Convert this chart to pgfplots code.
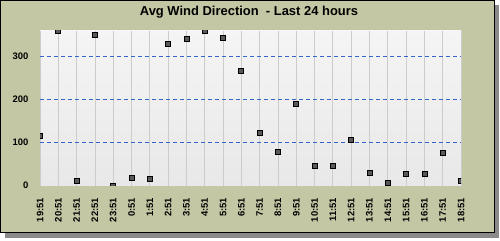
\documentclass[border=0pt]{standalone}
\usepackage{pgfplots}
\pgfplotsset{compat=1.18}
\usepackage{fontspec}
\setmainfont{Liberation Sans}
\definecolor{panel}{HTML}{C3C7A3}
\definecolor{gridblue}{HTML}{3366CC}
\definecolor{shadowc}{HTML}{8A8A8A}
\begin{document}
\begin{tikzpicture}[x=1bp,y=1bp]
\path[fill=white] (0,0) rectangle (500,240);
\fill[shadowc] (5,2) rectangle (499,235);
\filldraw[fill=panel, draw=black, line width=1bp] (0.5,7.5) rectangle (494,239.5);
\node[font=\fontsize{13}{15}\selectfont\bfseries] at (249,228) {Avg Wind Direction\ \ - Last 24 hours};
\begin{axis}[
  at={(40bp,54.5bp)}, anchor=south west,
  scale only axis, width=421bp, height=154.8bp,
  xmin=0, xmax=23, ymin=0, ymax=360,
  axis line style={draw=none},
  major tick length=0pt,
  xtick={0,...,23},
  xticklabels={19:51,20:51,21:51,22:51,23:51,0:51,1:51,2:51,3:51,4:51,5:51,6:51,7:51,8:51,9:51,10:51,11:51,12:51,13:51,14:51,15:51,16:51,17:51,18:51},
  ytick={0,100,200,300},
  xmajorgrids,
  major grid style={draw=black!20, line width=0.8bp},
  extra y ticks={100,200,300},
  extra y tick labels={},
  extra y tick style={grid=major, major grid style={draw=gridblue, dash pattern=on 4bp off 3bp, line width=1bp}},
  /pgf/number format/assume math mode=true,
  tick label style={font=\fontsize{9.5}{10}\selectfont\bfseries},
  xticklabel style={rotate=90, anchor=east},
  xticklabel shift=9bp,
  yticklabel shift=8bp,
  axis background/.style={shade, top color=black!4, bottom color=black!9},
  clip marker paths=true,
]
\addplot[only marks, mark=square*, mark size=2.5bp, mark options={fill=black!65, draw=black, line width=0.8bp}]
coordinates {
(0,116) (1,359) (2,11) (3,350) (4,0) (5,18) (6,15) (7,329) (8,341) (9,360)
(10,344) (11,267) (12,122) (13,78) (14,190) (15,46) (16,46) (17,106) (18,30)
(19,6) (20,27) (21,27) (22,76) (23,11)
};
\end{axis}
\end{tikzpicture}
\end{document}
